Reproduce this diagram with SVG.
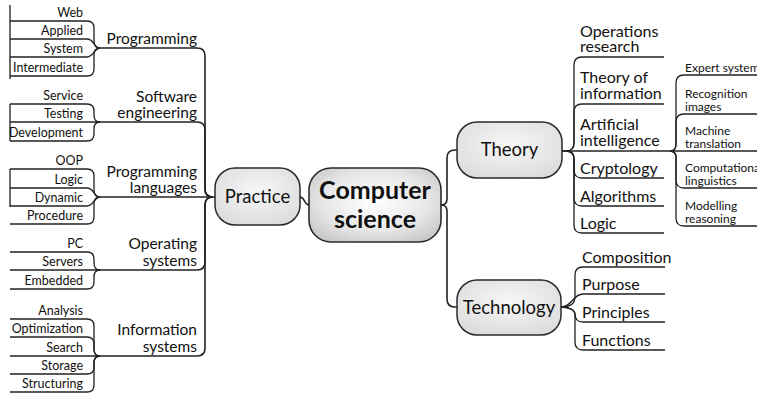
<svg xmlns="http://www.w3.org/2000/svg" width="757" height="393" viewBox="0 0 757 393">
<defs>
<radialGradient id="gCS" cx="50%" cy="45%" r="65%">
<stop offset="0" stop-color="#ffffff"/>
<stop offset="0.6" stop-color="#e8e8e8"/>
<stop offset="1" stop-color="#c6c6c6"/>
</radialGradient>
<radialGradient id="gN" cx="50%" cy="40%" r="70%">
<stop offset="0" stop-color="#f7f7f7"/>
<stop offset="1" stop-color="#dadada"/>
</radialGradient>
<style>
text{font-family:Lato,"Liberation Sans",sans-serif;fill:#111}
.it{font-size:12.5px;text-anchor:end}
.l1{font-size:15.5px;text-anchor:end}
.r1{font-size:16px}
.ai{font-size:12px}
.nd{font-size:18.5px;text-anchor:middle}
.cs{font-size:25px;font-weight:bold;text-anchor:middle}
.node{fill:url(#gN);stroke:#2a2a2a;stroke-width:1.5}
#connectors path{fill:none;stroke:#222;stroke-width:1.3}
#connectors .m{stroke-width:1.6}
</style>
</defs>
<rect width="757" height="393" fill="#fff"/>
<g id="connectors">
<path d="M10 5 V79 M10 104 V141 M10 169 V207"/>
<path d="M10 21 H87 Q94 21 94 28 V41 Q94 48 100 48"/>
<path d="M10 39 H87 C94 39 94 48 100 48"/>
<path d="M10 57 H87 C94 57 94 48 100 48"/>
<path d="M10 76 H87 Q94 76 94 69 V55 Q94 48 100 48"/>
<path d="M10 104 H87 Q94 104 94 111 V115 Q94 122 100 122"/>
<path d="M10 122 H100"/>
<path d="M10 141 H87 Q94 141 94 134 V129 Q94 122 100 122"/>
<path d="M10 169 H87 Q94 169 94 176 V190 Q94 197 100 197"/>
<path d="M10 188 H87 C94 188 94 197 100 197"/>
<path d="M10 206 H87 C94 206 94 197 100 197"/>
<path d="M10 224 H87 Q94 224 94 217 V204 Q94 197 100 197"/>
<path d="M10 252 H87 Q94 252 94 259 V263 Q94 270 100 270"/>
<path d="M10 270 H100"/>
<path d="M10 289 H87 Q94 289 94 282 V277 Q94 270 100 270"/>
<path d="M10 319 H87 Q94 319 94 326 V349 Q94 356 100 356"/>
<path d="M10 337 H87 Q94 337 94 344 V349 Q94 356 100 356"/>
<path d="M10 356 H100"/>
<path d="M10 374 H87 Q94 374 94 367 V363 Q94 356 100 356"/>
<path d="M10 392 H87 Q94 392 94 385 V363 Q94 356 100 356"/>
<path class="m" d="M100 48 H197 Q205 48 205 56 V189 Q205 197 213 197"/>
<path class="m" d="M100 122 H197 Q205 122 205 130 V189 Q205 197 213 197"/>
<path class="m" d="M100 197 H215"/>
<path class="m" d="M100 270 H197 Q205 270 205 262 V205 Q205 197 213 197"/>
<path class="m" d="M100 356 H197 Q205 356 205 348 V205 Q205 197 213 197"/>
<path class="m" d="M300 197 C305 197 304 205 309 205"/>
<path class="m" d="M441 205 Q447 205 447 199 V158 Q447 150 455 150 H457"/>
<path class="m" d="M441 205 Q447 205 447 211 V299 Q447 307 455 307 H457"/>
<path d="M562 151 H566 Q574 151 574 143 V65 Q574 57 582 57 H664"/>
<path d="M566 151 Q574 151 574 143 V112 Q574 104 582 104 H664"/>
<path d="M562 151 H670"/>
<path d="M566 151 Q574 151 574 159 V170 Q574 178 582 178 H664"/>
<path d="M566 151 Q574 151 574 159 V198 Q574 206 582 206 H664"/>
<path d="M566 151 Q574 151 574 159 V225 Q574 233 582 233 H664"/>
<path d="M561 307 C569 307 575 304 575 297 V275 Q575 267 583 267 H665"/>
<path d="M561 307 C572 307 573 294 583 294 H665"/>
<path d="M561 307 C569 307 575 310 575 314 Q575 322 583 322 H665"/>
<path d="M561 307 C569 307 575 310 575 315 V342 Q575 350 583 350 H665"/>
<path d="M670 151 C674 151 676 148 676 144 V83 Q676 75 684 75 H757"/>
<path d="M670 151 C674 151 676 148 676 144 V122 Q676 114 684 114 H757"/>
<path d="M670 151 H757"/>
<path d="M670 151 C674 151 676 154 676 158 V180 Q676 188 684 188 H757"/>
<path d="M670 151 C674 151 676 154 676 158 V218 Q676 226 684 226 H757"/>
</g>
<g id="cs"><rect x="309" y="168" width="132" height="74" rx="22" fill="url(#gCS)" stroke="#2a2a2a" stroke-width="1.6"/><text class="cs" x="375" y="199">Computer</text><text class="cs" x="375" y="228">science</text></g>
<g id="practice"><rect class="node" x="215" y="168" width="85" height="57" rx="20"/><text class="nd" x="257.5" y="203">Practice</text></g>
<g id="theory"><rect class="node" x="457" y="122" width="105" height="56" rx="20"/><text class="nd" x="509.5" y="156">Theory</text></g>
<g id="technology"><rect class="node" x="457" y="280" width="104" height="55" rx="20"/><text class="nd" x="509" y="314">Technology</text></g>
<g id="programming"><text class="l1" x="197" y="44">Programming</text></g>
<g id="web"><text class="it" x="83" y="17">Web</text></g>
<g id="applied"><text class="it" x="83" y="35">Applied</text></g>
<g id="system"><text class="it" x="83" y="53">System</text></g>
<g id="intermediate"><text class="it" x="83" y="72">Intermediate</text></g>
<g id="softeng"><text class="l1" x="197" y="102">Software</text><text class="l1" x="197" y="118">engineering</text></g>
<g id="service"><text class="it" x="83" y="100">Service</text></g>
<g id="testing"><text class="it" x="83" y="118">Testing</text></g>
<g id="development"><text class="it" x="83" y="137">Development</text></g>
<g id="proglang"><text class="l1" x="197" y="177">Programming</text><text class="l1" x="197" y="193">languages</text></g>
<g id="oop"><text class="it" x="83" y="165">OOP</text></g>
<g id="logic-l"><text class="it" x="83" y="184">Logic</text></g>
<g id="dynamic"><text class="it" x="83" y="202">Dynamic</text></g>
<g id="procedure"><text class="it" x="83" y="220">Procedure</text></g>
<g id="os"><text class="l1" x="197" y="249">Operating</text><text class="l1" x="197" y="266">systems</text></g>
<g id="pc"><text class="it" x="83" y="248">PC</text></g>
<g id="servers"><text class="it" x="83" y="266">Servers</text></g>
<g id="embedded"><text class="it" x="83" y="285">Embedded</text></g>
<g id="is"><text class="l1" x="197" y="335">Information</text><text class="l1" x="197" y="352">systems</text></g>
<g id="analysis"><text class="it" x="83" y="315">Analysis</text></g>
<g id="optimization"><text class="it" x="83" y="333">Optimization</text></g>
<g id="search"><text class="it" x="83" y="352">Search</text></g>
<g id="storage"><text class="it" x="83" y="370">Storage</text></g>
<g id="structuring"><text class="it" x="83" y="388">Structuring</text></g>
<g id="opres"><text class="r1" x="580" y="37">Operations</text><text class="r1" x="580" y="52">research</text></g>
<g id="toi"><text class="r1" x="580" y="83">Theory of</text><text class="r1" x="580" y="99">information</text></g>
<g id="ai"><text class="r1" x="580" y="130">Artificial</text><text class="r1" x="580" y="146">intelligence</text></g>
<g id="crypto"><text class="r1" x="580" y="174">Cryptology</text></g>
<g id="algo"><text class="r1" x="580" y="202">Algorithms</text></g>
<g id="logic-r"><text class="r1" x="580" y="229">Logic</text></g>
<g id="expert"><text class="ai" x="685" y="72">Expert systems</text></g>
<g id="recog"><text class="ai" x="685" y="98">Recognition</text><text class="ai" x="685" y="111">images</text></g>
<g id="mt"><text class="ai" x="685" y="135">Machine</text><text class="ai" x="685" y="148">translation</text></g>
<g id="cl"><text class="ai" x="685" y="172">Computational</text><text class="ai" x="685" y="185">linguistics</text></g>
<g id="mr"><text class="ai" x="685" y="210">Modelling</text><text class="ai" x="685" y="223">reasoning</text></g>
<g id="composition"><text class="r1" x="582" y="263">Composition</text></g>
<g id="purpose"><text class="r1" x="582" y="290">Purpose</text></g>
<g id="principles"><text class="r1" x="582" y="318">Principles</text></g>
<g id="functions"><text class="r1" x="582" y="346">Functions</text></g>
</svg>
